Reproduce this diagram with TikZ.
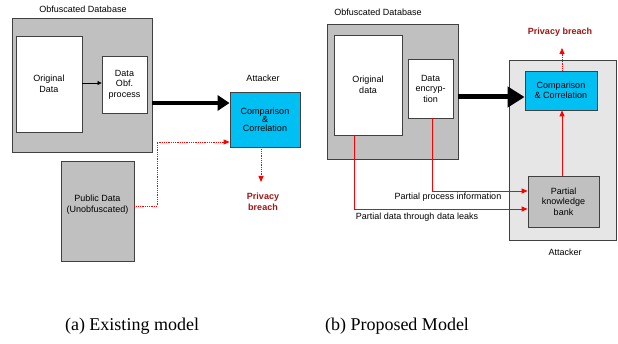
\documentclass[tikz,border=0pt]{standalone}
\usepackage{fontspec}
\setmainfont{Liberation Sans}
\newfontfamily\capfont{Liberation Serif}
\usepackage{xcolor}
\usetikzlibrary{arrows.meta}
\definecolor{boxgray}{RGB}{192,192,192}
\definecolor{attgray}{RGB}{230,230,230}
\definecolor{cmpcyan}{RGB}{0,191,243}
\definecolor{breachred}{RGB}{160,20,20}

\begin{document}
\begin{tikzpicture}[x=1pt,y=-1pt,
    font=\fontsize{9}{10.5}\selectfont,
    box/.style={draw=black!75,line width=0.8pt,inner sep=1pt,align=center},
    graybox/.style={box,fill=boxgray},
    whitebox/.style={box,fill=white},
    cmpbox/.style={box,fill=cmpcyan},
    thickarrow/.style={line width=4pt,-{Triangle[length=12pt,width=15pt]}},
    thinarrow/.style={line width=0.6pt,-{Triangle[length=4pt,width=4pt]}},
    redline/.style={red,line width=0.8pt,-{Triangle[length=6pt,width=5pt]}},
    reddots/.style={redline,densely dotted},
    breach/.style={text=breachred,font=\fontsize{9}{10.5}\selectfont\bfseries,align=center},
    caption/.style={font=\fontsize{18}{20}\capfont}]
  \useasboundingbox (0,0) rectangle (618,344);

  % (a) existing model
  \node (dbla) at (83,9) {Obfuscated Database};
  \node[graybox,minimum width=140pt,minimum height=134pt] (odba) at (82,85) {};
  \node[whitebox,minimum width=66pt,minimum height=96pt] (origa) at (49,84) {Original\\Data};
  \node[whitebox,minimum width=45pt,minimum height=57pt] (obfa) at (124.5,84.5) {Data\\Obf.\\process};
  \node (atla) at (263,78) {Attacker};
  \node[cmpbox,minimum width=70pt,minimum height=55pt] (cmpa) at (265,119.5) {Comparison\\[-2pt]\&\\[-2pt]Correlation};
  \node[graybox,minimum width=73pt,minimum height=100pt] (puba) at (97.5,211) {};
  \node[align=center] (pubtxt) at (97.5,204.5) {Public Data\\(Unobfuscated)};
  \node[breach] (breacha) at (263,202) {Privacy\\breach};
  \coordinate (bend) at (157,206);
  \coordinate (brendA) at (261,182);

  \draw[thinarrow] (origa.east |- 0,83) -- (obfa.west |- 0,83);
  \draw[thickarrow] (odba.east |- 0,103) -- (cmpa.west |- 0,103);
  \draw[reddots] (puba.east |- bend) -- (bend) -- (bend |- 0,142) -- (cmpa.west |- 0,142);
  \draw[reddots] (cmpa.south -| brendA) -- (brendA);

  % (b) proposed model
  \node (dblb) at (378,12) {Obfuscated Database};
  \node[graybox,minimum width=131pt,minimum height=135pt] (odbb) at (392.5,91.5) {};
  \node[whitebox,minimum width=68pt,minimum height=100pt] (origb) at (368,85) {Original\\data};
  \node[whitebox,minimum width=45pt,minimum height=59pt] (encb) at (430.5,88.5) {Data\\encryp-\\tion};
  \node[box,fill=attgray,minimum width=107pt,minimum height=180pt] (attb) at (562.5,150) {};
  \node (atlb) at (565,252) {Attacker};
  \node[cmpbox,minimum width=72pt,minimum height=39pt] (cmpb) at (561,90.5) {Comparison\\\& Correlation};
  \node[graybox,minimum width=71pt,minimum height=51pt] (pkbb) at (563.5,201.5) {Partial\\knowledge\\bank};
  \node[breach] (breachb) at (560,32) {Privacy breach};
  \coordinate (brendB) at (562,48);
  \coordinate (encdown) at (432,191);
  \coordinate (origdown) at (354,209);

  \draw[thickarrow,line width=5pt,-{Triangle[length=17pt,width=20pt]}] (odbb.east |- 0,97) -- (cmpb.west |- 0,97);
  \draw[reddots] (cmpb.north -| brendB) -- (brendB);
  \draw[redline] (pkbb.north -| brendB) -- (cmpb.south -| brendB);
  \draw[redline] (encb.south -| encdown) -- (encdown) -- (pkbb.west |- encdown);
  \draw[redline] (origb.south -| origdown) -- (origdown) -- (pkbb.west |- origdown);
  \node (ppinfo) at (448,197.5) {Partial process information};
  \node (pdleak) at (417,217.5) {Partial data through data leaks};

  % captions
  \node[caption] (capa) at (132,326) {(a) Existing model};
  \node[caption] (capb) at (397,326) {(b) Proposed Model};
\end{tikzpicture}
\end{document}
